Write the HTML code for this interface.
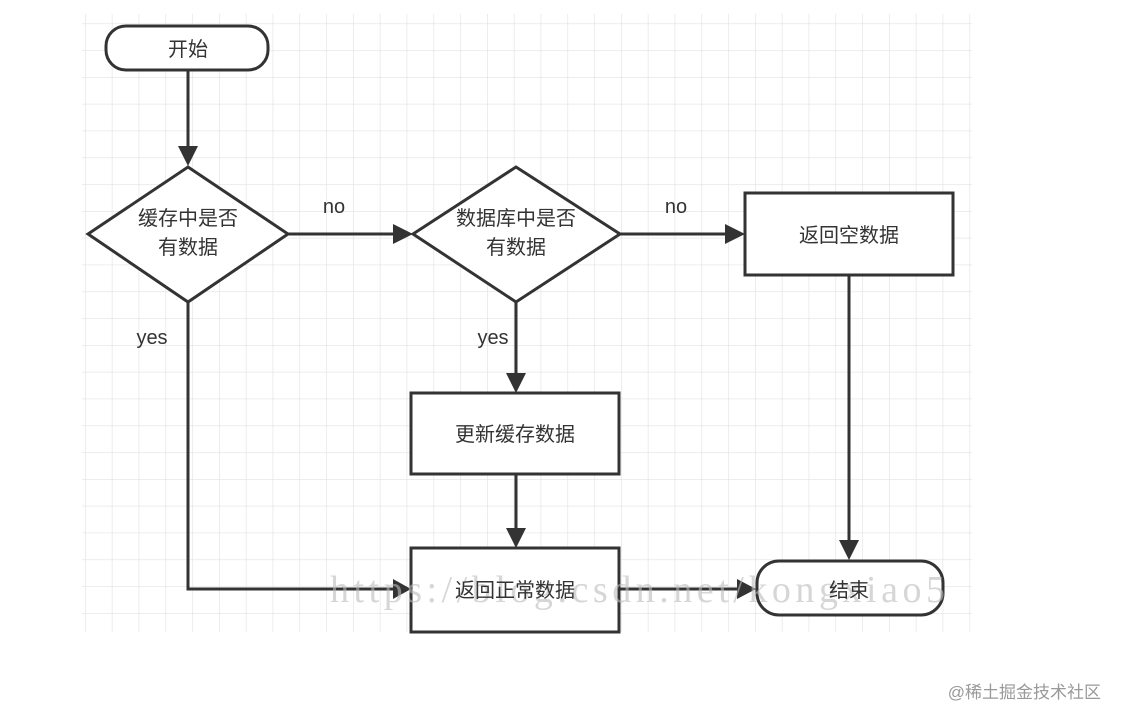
<!DOCTYPE html>
<html><head><meta charset="utf-8"><style>
body{margin:0;background:#fff;}
svg{display:block;}
text{font-family:"Liberation Sans","Noto Sans CJK SC",sans-serif;}
</style></head><body>
<svg width="1122" height="722" viewBox="0 0 1122 722">
<defs>
<pattern id="g" x="85" y="23.4" width="26.8" height="26.8" patternUnits="userSpaceOnUse">
<path d="M0 0H26.8M0 0V26.8" stroke="#e2e2e2" stroke-width="1.3" fill="none"/>
</pattern>
</defs>
<rect x="82" y="14" width="890" height="618" fill="url(#g)"/>
<g stroke="#333" stroke-width="3" fill="none">
<line x1="188" y1="70" x2="188" y2="150"/>
<line x1="288" y1="234" x2="395" y2="234"/>
<line x1="620" y1="234" x2="728" y2="234"/>
<line x1="516" y1="302" x2="516" y2="376"/>
<polyline points="188,302 188,589 395,589"/>
<line x1="516" y1="474" x2="516" y2="531"/>
<line x1="619" y1="589" x2="739" y2="589"/>
<line x1="849" y1="275" x2="849" y2="543"/>
</g>
<g fill="#333">
<polygon points="178,146 198,146 188,166"/>
<polygon points="393,224 393,244 413,234"/>
<polygon points="725,224 725,244 745,234"/>
<polygon points="506,373 526,373 516,393"/>
<polygon points="393,579 393,599 411,589"/>
<polygon points="506,528 526,528 516,548"/>
<polygon points="737,579 737,599 756,589"/>
<polygon points="839,540 859,540 849,560"/>
</g>
<g stroke="#333" stroke-width="3" fill="#fff">
<rect x="106" y="26" width="162" height="44" rx="20"/>
<polygon points="188,167 288,234 188,302 88,234"/>
<polygon points="516,167 620,234 516,302 413,234"/>
<rect x="745" y="193" width="208" height="82"/>
<rect x="411" y="393" width="208" height="81"/>
<rect x="411" y="548" width="208" height="84"/>
<rect x="757" y="561" width="186" height="54" rx="22"/>
</g>
<text x="330" y="602" textLength="615" lengthAdjust="spacing" style="font-family:'Liberation Serif',serif" font-size="38" fill="#bbb" fill-opacity="0.6">https://blog.csdn.net/kongxiao5</text>
<g font-size="20" fill="#333" text-anchor="middle">
<text x="188" y="56">开始</text>
<text x="188" y="225">缓存中是否</text>
<text x="188" y="254">有数据</text>
<text x="516" y="225">数据库中是否</text>
<text x="516" y="254">有数据</text>
<text x="849" y="242">返回空数据</text>
<text x="515" y="441">更新缓存数据</text>
<text x="515" y="597">返回正常数据</text>
<text x="849" y="597">结束</text>
<text x="334" y="213">no</text>
<text x="676" y="213">no</text>
<text x="152" y="344">yes</text>
<text x="493" y="344">yes</text>
</g>
<text x="1101" y="698" font-size="17" fill="#999" text-anchor="end">@稀土掘金技术社区</text>
</svg>
</body></html>
